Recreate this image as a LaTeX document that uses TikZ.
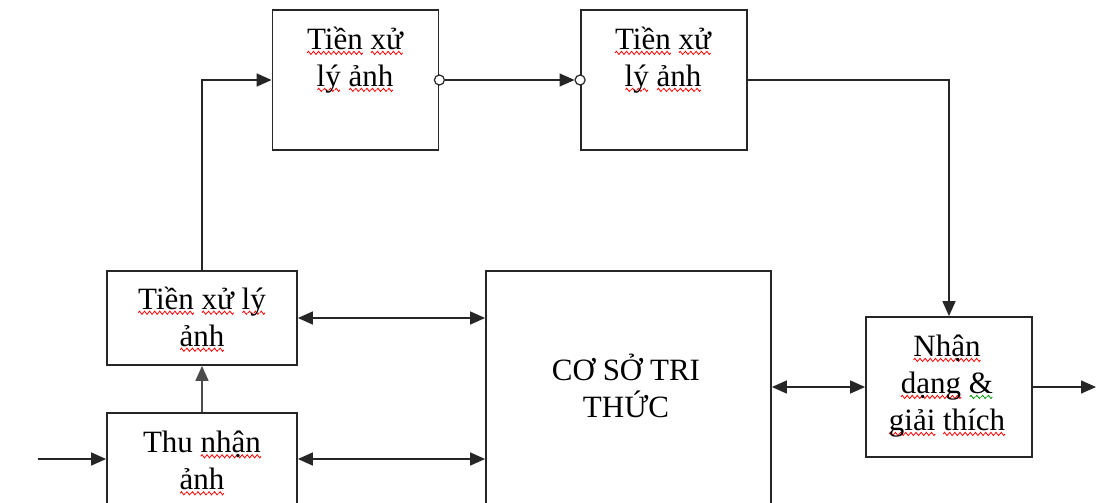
\documentclass[tikz,border=0pt]{standalone}
\usepackage{fontspec}
\setmainfont{Liberation Serif}
\usetikzlibrary{arrows.meta}
\newsavebox\redwave
\newsavebox\grnwave
\newcommand\makewave[2]{%
  \sbox#1{\begin{pgfpicture}%
    \pgfpathmoveto{\pgfpoint{0pt}{0pt}}%
    \pgfpathlineto{\pgfpoint{1.25pt}{1.6pt}}%
    \pgfpathlineto{\pgfpoint{3.75pt}{-1.6pt}}%
    \pgfpathlineto{\pgfpoint{5pt}{0pt}}%
    \pgfsetstrokecolor{#2}\pgfsetlinewidth{0.8pt}%
    \pgfusepath{stroke}%
    \pgfresetboundingbox
    \pgfpathrectangle{\pgfpoint{0pt}{-1.5pt}}{\pgfpoint{5pt}{3pt}}%
    \pgfusepath{use as bounding box}%
  \end{pgfpicture}}}
\colorlet{wavegreen}{green!60!black}
\AtBeginDocument{\makewave{\redwave}{red}\makewave{\grnwave}{wavegreen}}
\newcommand\wavy[2]{\leavevmode\setbox0\hbox{#2}%
  \rlap{\raisebox{-5pt}{\hbox to \wd0{\xleaders\copy#1\hfill}}}\box0\relax}
\newcommand\redsq[1]{\wavy{\redwave}{#1}}
\newcommand\grnsq[1]{\wavy{\grnwave}{#1}}
\begin{document}
\begin{tikzpicture}[x=1pt,y=-1pt,
  >={Triangle[length=15pt,width=13pt]},
  box/.style={draw=black!85, line width=1.8pt, rectangle, inner sep=0pt},
  lab/.style={align=center, font=\fontsize{31}{37}\selectfont, inner sep=0pt},
  conn/.style={line width=1.5pt, draw=black!85},
  circ/.style={circle, draw=black!85, line width=1.2pt, fill=white, inner sep=0pt, minimum size=10pt}]
\useasboundingbox (0,0) rectangle (1097,503);
\clip (0,0) rectangle (1097,503);
\fill[white] (0,0) rectangle (1097,503);
% boxes
\node[box, minimum width=166pt, minimum height=140pt] (A) at (355.5,80) {};
\node[box, minimum width=166pt, minimum height=140pt] (B) at (664,80) {};
\node[box, minimum width=190pt, minimum height=94pt] (C) at (202,318) {};
\node[box, minimum width=190pt, minimum height=92pt] (D) at (202,459) {};
\node[box, minimum width=285pt, minimum height=249pt] (E) at (628.5,395.5) {};
\node[box, minimum width=166pt, minimum height=140pt] (F) at (949,387) {};
% texts
\node[lab] (tA) at (355,60) {\redsq{Tiền} \redsq{xử}\\\redsq{lý} \redsq{ảnh}};
\node[lab] (tB) at (663,60) {\redsq{Tiền} \redsq{xử}\\\redsq{lý} \redsq{ảnh}};
\node[lab] (tC) at (202,319) {\redsq{Tiền} \redsq{xử} \redsq{lý}\\\redsq{ảnh}};
\node[lab] (tD) at (202,463) {Thu \redsq{nhận}\\\redsq{ảnh}};
\node[lab] (tE) at (626,386) {CƠ SỞ TRI\\THỨC};
\node[lab] (tF) at (947,386) {\redsq{Nhận}\\\redsq{dạng} \grnsq{\&}\\\redsq{giải} \redsq{thích}};
% connectors
\coordinate (in) at (38,459);
\coordinate (out) at (1096,387);
\draw[conn,->] (in) -- (D.west);
\draw[conn,->,draw=black!70] (D.north) -- (C.south);
\draw[conn,->] (C.north) |- (A.west);
\node[circ] (o1) at (A.east) {};
\node[circ] (o2) at (B.west) {};
\draw[conn,->] (o1.east) -- (o2.west);
\draw[conn,->] (B.east) -| (F.north);
\draw[conn,<->] (C.east) -- (C.east -| E.west);
\draw[conn,<->] (D.east) -- (D.east -| E.west);
\draw[conn,<->] (E.east |- F.west) -- (F.west);
\draw[conn,->] (F.east) -- (out);
\end{tikzpicture}
\end{document}
